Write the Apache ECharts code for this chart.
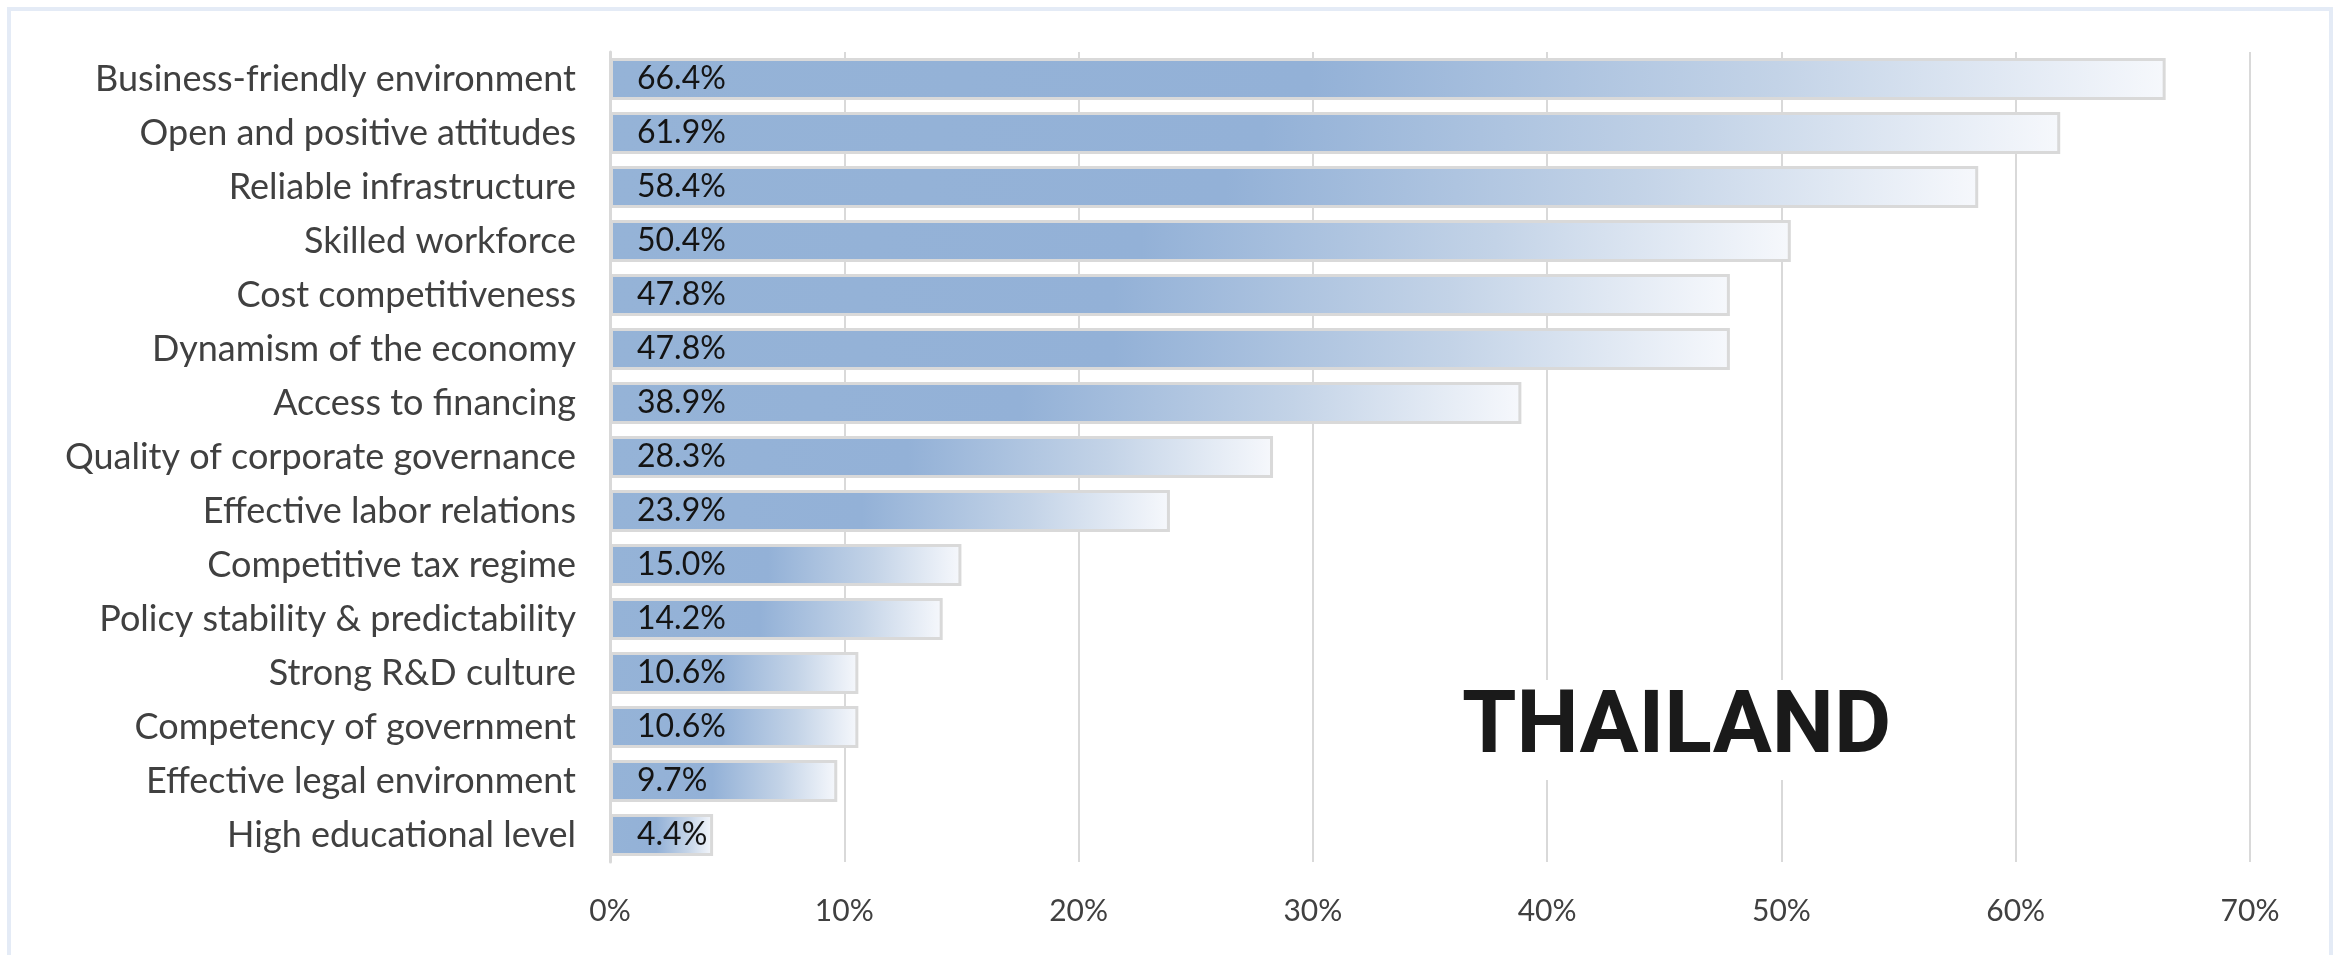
<!DOCTYPE html>
<html>
<head>
<meta charset="utf-8">
<script src="https://cdn.jsdelivr.net/npm/echarts@6/dist/echarts.min.js"></script>
<style>
html,body{margin:0;padding:0;background:#fff;}
#chart{width:2343px;height:955px;}
</style>
</head>
<body>
<div id="chart"></div>
<script>
const categories = [
  'Business-friendly environment',
  'Open and positive attitudes',
  'Reliable infrastructure',
  'Skilled workforce',
  'Cost competitiveness',
  'Dynamism of the economy',
  'Access to financing',
  'Quality of corporate governance',
  'Effective labor relations',
  'Competitive tax regime',
  'Policy stability & predictability',
  'Strong R&D culture',
  'Competency of government',
  'Effective legal environment',
  'High educational level'
];
const values = [66.4, 61.9, 58.4, 50.4, 47.8, 47.8, 38.9, 28.3, 23.9, 15.0, 14.2, 10.6, 10.6, 9.7, 4.4];
const countryLabel = 'THAILAND';

const chart = echarts.init(document.getElementById('chart'));
const FONT = 'Lato';
chart.setOption({
  animation: false,
  backgroundColor: '#ffffff',
  graphic: [
    {
      type: 'rect',
      shape: {x: 9, y: 9, width: 2322, height: 960},
      style: {fill: 'none', stroke: '#e4ebf6', lineWidth: 4},
      z: 0
    }
  ],
  title: {
    text: countryLabel,
    left: 1452,
    top: 680,
    backgroundColor: '#ffffff',
    padding: [6, 10, 6, 10],
    textStyle: {
      fontFamily: 'Roboto',
      fontWeight: 'bold',
      fontSize: 88,
      color: '#1a1a1a'
    },
    z: 10
  },
  grid: {
    left: 610,
    right: 93,
    top: 52,
    bottom: 93,
    containLabel: false
  },
  xAxis: {
    type: 'value',
    min: 0,
    max: 70,
    interval: 10,
    axisLine: {show: false},
    axisTick: {show: false},
    splitLine: {show: true, lineStyle: {color: '#d9d9d9', width: 2}},
    axisLabel: {
      formatter: '{value}%',
      fontFamily: FONT,
      fontSize: 30,
      color: '#404040',
      margin: 34
    }
  },
  yAxis: {
    type: 'category',
    data: categories,
    inverse: true,
    axisLine: {show: true, lineStyle: {color: '#d9d9d9', width: 3}},
    axisTick: {show: false},
    axisLabel: {
      fontFamily: FONT,
      fontSize: 36,
      color: '#404040',
      margin: 34
    }
  },
  series: [{
    type: 'bar',
    data: values,
    barCategoryGap: '22%',
    itemStyle: {
      borderColor: '#d9d9d9',
      borderWidth: 3,
      color: {
        type: 'linear', x: 0, y: 0, x2: 1, y2: 0,
        colorStops: [
          {offset: 0, color: '#95b3d7'},
          {offset: 0.45, color: '#93b1d7'},
          {offset: 0.75, color: '#c3d3e7'},
          {offset: 1, color: '#f6f8fc'}
        ]
      }
    },
    label: {
      show: true,
      position: 'insideLeft',
      offset: [22, 0],
      formatter: p => p.value.toFixed(1) + '%',
      fontFamily: FONT,
      fontSize: 32,
      color: '#141414'
    }
  }]
});
</script>
</body>
</html>
